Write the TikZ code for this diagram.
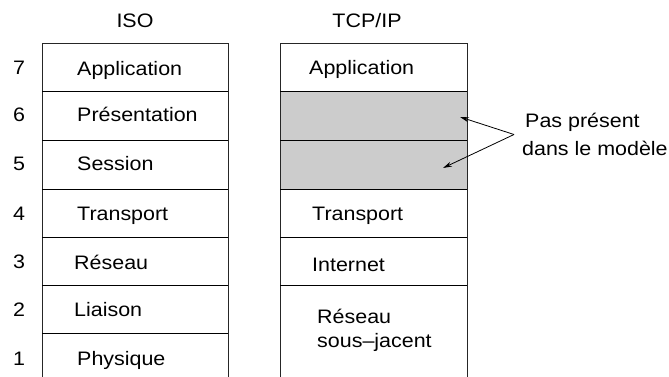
\documentclass[tikz,border=0pt]{standalone}
\usepackage{fontspec}
\setmainfont{Liberation Sans}[FakeStretch=1.1]
\usetikzlibrary{arrows.meta}
\begin{document}
\begin{tikzpicture}[x=1pt,y=-1pt,
  txt/.style={inner sep=0pt,font=\fontsize{19.5}{23}\selectfont},
  lbl/.style={txt,anchor=base west},
  num/.style={txt,anchor=base},
  frame/.style={line width=0.9pt,draw=black!85},
  sep/.style={line width=0.8pt},
  absent/.style={fill=black!20,draw=none},
  pointer/.style={line width=0.8pt,-{Stealth[length=9pt,width=5pt]}}]
\useasboundingbox (0,0) rectangle (669,377);

% column titles
\node[txt,anchor=base] (iso) at (135,28) {ISO};
\node[txt,anchor=base] (tcp) at (367,28) {TCP/IP};

% layer numbers
\foreach \n/\y in {7/75,6/122,5/170,4/220,3/268,2/316,1/365}
  \node[num] (n\n) at (19,\y) {\n};

% ISO stack
\draw[frame] (42,377) -- (42,43) -- (228,43) -- (228,377);
\foreach \y in {91,140,189,237,285,333}
  \draw[sep] (42,\y) -- (228,\y);
\node[lbl] (isoapp)   at (77,76)  {Application};
\node[lbl] (isopres)  at (77,122) {Présentation};
\node[lbl] (isosess)  at (77,170) {Session};
\node[lbl] (isotrans) at (77,220) {Transport};
\node[lbl] (isores)   at (74,269) {Réseau};
\node[lbl] (isolink)  at (74,316) {Liaison};
\node[lbl] (isophys)  at (77,365) {Physique};

% TCP/IP stack, with the two missing layers shaded
\node[absent,minimum width=187pt,minimum height=49pt,inner sep=0pt] (gap6) at (373.5,115.5) {};
\node[absent,minimum width=187pt,minimum height=49pt,inner sep=0pt] (gap5) at (373.5,164.5) {};
\draw[frame] (280,377) -- (280,43) -- (467,43) -- (467,377);
\foreach \y in {91,140,189,237,285}
  \draw[sep] (280,\y) -- (467,\y);
\node[lbl] (tcpapp)   at (309,75)  {Application};
\node[lbl] (tcptrans) at (312,220) {Transport};
\node[lbl] (tcpnet)   at (312,271) {Internet};
\node[lbl] (tcpsub1)  at (317,323) {Réseau};
\node[lbl] (tcpsub2)  at (317,347) {sous\textendash jacent};

% note with its two arrows
\node[lbl] (note1) at (525,128) {Pas présent};
\node[lbl] (note2) at (522,155) {dans le modèle};
\coordinate (from) at (514,134.5);
\coordinate (to6) at (460,117);
\coordinate (to5) at (443,168);
\draw[pointer] (from) -- (to6);
\draw[pointer] (from) -- (to5);
\end{tikzpicture}
\end{document}
